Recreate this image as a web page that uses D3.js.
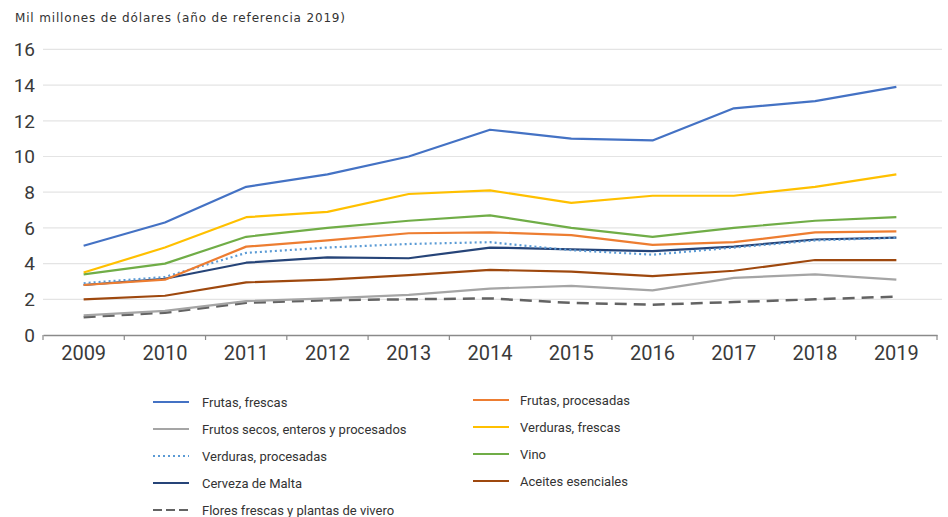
<!DOCTYPE html>
<html>
<head>
<meta charset="utf-8">
<script src="https://cdn.jsdelivr.net/npm/d3@7"></script>
<style>
  body { margin: 0; background: #fff; }
  text { font-family: Roboto, "Noto Sans", sans-serif; }
</style>
</head>
<body>
<svg id="chart" width="948" height="517"></svg>
<script>
// years on the x axis
var years = [2009, 2010, 2011, 2012, 2013, 2014, 2015, 2016, 2017, 2018, 2019];
var yTicks = [0, 2, 4, 6, 8, 10, 12, 14, 16];

// series values (mil millones USD)
var frutasFrescas      = [5.0, 6.3, 8.3, 9.0, 10.0, 11.5, 11.0, 10.9, 12.7, 13.1, 13.9];
var frutasProcesadas   = [2.8, 3.1, 4.95, 5.3, 5.7, 5.75, 5.6, 5.05, 5.2, 5.75, 5.8];
var frutosSecos        = [1.1, 1.35, 1.9, 2.05, 2.25, 2.6, 2.75, 2.5, 3.2, 3.4, 3.1];
var verdurasFrescas    = [3.5, 4.9, 6.6, 6.9, 7.9, 8.1, 7.4, 7.8, 7.8, 8.3, 9.0];
var verdurasProcesadas = [2.9, 3.25, 4.6, 4.9, 5.1, 5.2, 4.75, 4.5, 4.9, 5.3, 5.45];
var vino               = [3.4, 4.0, 5.5, 6.0, 6.4, 6.7, 6.0, 5.5, 6.0, 6.4, 6.6];
var cervezaMalta       = [2.8, 3.15, 4.05, 4.35, 4.3, 4.9, 4.8, 4.7, 4.95, 5.35, 5.45];
var aceites            = [2.0, 2.2, 2.95, 3.1, 3.35, 3.65, 3.55, 3.3, 3.6, 4.2, 4.2];
var flores             = [1.0, 1.25, 1.8, 1.95, 2.0, 2.05, 1.8, 1.7, 1.85, 2.0, 2.15];

var seriesNames = ["Frutas, frescas", "Frutas, procesadas", "Frutos secos, enteros y procesados",
  "Verduras, frescas", "Verduras, procesadas", "Vino", "Cerveza de Malta",
  "Aceites esenciales", "Flores frescas y plantas de vivero"];
var seriesValues = [frutasFrescas, frutasProcesadas, frutosSecos, verdurasFrescas,
  verdurasProcesadas, vino, cervezaMalta, aceites, flores];
var colors = ["#4472c4", "#ed7d31", "#a5a5a5", "#ffc000", "#5b9bd5", "#70ad47", "#264478", "#9e480e", "#636363"];
var dashes = [null, null, null, null, "2,3", null, null, null, "12,7"];

var svg = d3.select("#chart");

var x = d3.scaleBand().domain(years).range([43, 937]);
var y = d3.scaleLinear().domain([0, 16]).range([335, 49.4]);

// title
svg.append("text")
  .attr("x", 15).attr("y", 22)
  .attr("font-size", 12).attr("fill", "#333")
  .style("font-family", "'DejaVu Sans', sans-serif")
  .attr("textLength", 330)
  .text("Mil millones de dólares (año de referencia 2019)");

// grid + y labels
var gy = svg.append("g");
gy.selectAll("line")
  .data(yTicks.filter(function(d) { return d > 0; }))
  .enter().append("line")
  .attr("x1", 43).attr("x2", 942)
  .attr("y1", function(d) { return y(d); })
  .attr("y2", function(d) { return y(d); })
  .attr("stroke", "#e4e4e4").attr("stroke-width", 1.2);

gy.selectAll("text")
  .data(yTicks)
  .enter().append("text")
  .attr("x", 35)
  .attr("y", function(d) { return y(d); })
  .attr("dy", "0.36em")
  .attr("text-anchor", "end")
  .attr("font-size", 19).attr("fill", "#3a3a3a")
  .text(function(d) { return d; });

// x axis
var xAxis = svg.append("g")
  .attr("transform", "translate(0,335)")
  .call(d3.axisBottom(x).tickSize(0).tickPadding(11));
xAxis.select(".domain").attr("stroke", "#8a8a8a").attr("stroke-width", 1.5);
xAxis.selectAll("text").attr("font-size", 20).attr("fill", "#3a3a3a")
  .attr("font-family", "Roboto, 'Noto Sans', sans-serif");
var bounds = years.map(function(d) { return x(d); }).concat([x.range()[1]]);
xAxis.selectAll(".bt")
  .data(bounds)
  .enter().append("line")
  .attr("class", "bt")
  .attr("x1", function(d) { return d; }).attr("x2", function(d) { return d; })
  .attr("y1", 0).attr("y2", 5)
  .attr("stroke", "#8a8a8a").attr("stroke-width", 1.2);

// lines
var line = d3.line()
  .x(function(d, i) { return x(years[i]) + x.bandwidth() / 2; })
  .y(function(d) { return y(d); });

var drawOrder = [8, 2, 7, 6, 4, 1, 5, 3, 0];
svg.append("g").selectAll("path")
  .data(drawOrder)
  .enter().append("path")
  .attr("d", function(k) { return line(seriesValues[k]); })
  .attr("fill", "none")
  .attr("stroke", function(k) { return colors[k]; })
  .attr("stroke-width", function(k) { return k == 8 ? 2.5 : 2.2; })
  .attr("stroke-dasharray", function(k) { return dashes[k]; })
  .attr("stroke-linejoin", "round");

// legend, two columns row by row
var legend = svg.append("g");
var item = legend.selectAll("g")
  .data(seriesNames)
  .enter().append("g")
  .attr("transform", function(d, i) {
    var col = i % 2, row = Math.floor(i / 2);
    return "translate(" + (col ? 473 : 153) + "," + ((col ? 400 : 402) + row * 27) + ")";
  });

item.append("line")
  .attr("x1", 0).attr("x2", 36).attr("y1", 0).attr("y2", 0)
  .attr("stroke", function(d, i) { return colors[i]; })
  .attr("stroke-width", 2.2)
  .attr("stroke-dasharray", function(d, i) { return i == 8 ? "9,4" : dashes[i]; });

item.append("text")
  .attr("x", function(d, i) { return i % 2 ? 47 : 49; })
  .attr("y", 0).attr("dy", "0.35em")
  .attr("font-size", 13).attr("fill", "#333")
  .text(function(d) { return d; });
</script>
</body>
</html>
